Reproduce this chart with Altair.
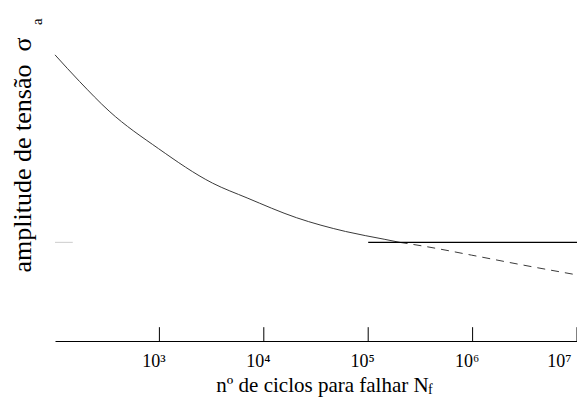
import altair as alt
import pandas as pd

# Curve (N = cycles to failure, S = stress amplitude, arbitrary units)
solid_N = [100, 172, 330, 980, 3230, 6920, 20500, 60700, 144500, 200000]
solid_S = [290, 263, 233, 195, 160, 145, 125, 111, 103, 100]
dash_N = [200000, 345000, 980000, 3030000, 10000000]
dash_S = [100, 96, 87, 77, 67]
endurance_N = [100000, 10000000]
endurance_S = [100, 100]
marker_N = [100, 148]
marker_S = [100, 100]
tick_N = [1000, 10000, 100000, 1000000, 10000000]
tick_labels = ["10\u00b3", "10\u2074", "10\u2075", "10\u2076", "10\u2077"]

x_title = "n\u00ba de ciclos para falhar N"
x_sub = "f"
y_title = "amplitude de tens\u00e3o\u00a0\u00a0\u03c3"
y_sub = "a"

FONT = "Liberation Serif"

xscale = alt.Scale(type="log", domain=[100, 10000000], nice=False)
yscale = alt.Scale(domain=[0, 300], nice=False, zero=False)

label_expr = " : ".join(
    f"round(datum.value) == {n} ? '{lab}'" for n, lab in zip(tick_N, tick_labels)
) + " : ''"

x_axis = alt.Axis(
    values=tick_N,
    labelExpr=label_expr,
    ticks=False,
    grid=False,
    domainColor="black",
    domainWidth=1,
    labelFont=FONT,
    labelFontSize=18,
    labelColor="black",
    labelPadding=11,
    labelBaseline="top",
    labelOffset=-6,
    labelFlush=True,
    labelOverlap=False,
    title=x_title,
    titleFont=FONT,
    titleFontSize=21,
    titleFontWeight="normal",
    titleColor="black",
    titleBaseline="alphabetic",
    titleAlign="center",
    titleX=267,
    titleY=50,
)
y_axis = alt.Axis(
    domain=False,
    ticks=False,
    labels=False,
    grid=False,
    title=y_title,
    titleFont=FONT,
    titleFontSize=26,
    titleFontWeight="normal",
    titleColor="black",
    titleAngle=270,
    titleAlign="left",
    titleBaseline="alphabetic",
    titleX=-25,
    titleY=227,
)

def xe():
    return alt.X("N:Q", scale=xscale, axis=x_axis, title=x_title)

def ye():
    return alt.Y("S:Q", scale=yscale, axis=y_axis, title=y_title)

solid_df = pd.DataFrame({"N": solid_N, "S": solid_S})
dash_df = pd.DataFrame({"N": dash_N, "S": dash_S})
end_df = pd.DataFrame({"N": endurance_N, "S": endurance_S})
mark_df = pd.DataFrame({"N": marker_N, "S": marker_S})
tick_df = pd.DataFrame({"N": tick_N, "S": [0] * len(tick_N), "S2": [14] * len(tick_N)})

solid = alt.Chart(solid_df).mark_line(
    color="#3a3a3a", strokeWidth=1, interpolate="monotone"
).encode(x=xe(), y=ye())

dashed = alt.Chart(dash_df).mark_line(
    color="#3a3a3a", strokeWidth=1, strokeDash=[8, 6], interpolate="monotone"
).encode(x=xe(), y=ye())

endurance = alt.Chart(end_df).mark_line(color="black", strokeWidth=1.2).encode(x=xe(), y=ye())

marker = alt.Chart(mark_df).mark_line(color="#cccccc", strokeWidth=1).encode(x=xe(), y=ye())

ticks = alt.Chart(tick_df).mark_rule(color="black", strokeWidth=1).encode(
    x=xe(), y=ye(), y2="S2:Q"
)

xsub = alt.Chart(pd.DataFrame({"t": [x_sub]})).mark_text(
    font=FONT, fontSize=14, color="black", align="left", baseline="alphabetic"
).encode(x=alt.value(373), y=alt.value(349), text="t:N")

ysub = alt.Chart(pd.DataFrame({"t": [y_sub]})).mark_text(
    font=FONT, fontSize=15, color="black", align="left", baseline="alphabetic", angle=270
).encode(x=alt.value(-13), y=alt.value(-20), text="t:N")

chart = alt.layer(solid, dashed, endurance, marker, ticks, xsub, ysub).properties(
    width=522,
    height=296,
    background="white",
    autosize=alt.AutoSizeParams(type="none"),
    padding={"left": 47, "top": 37, "right": 0, "bottom": 56},
).configure_view(stroke=None)

chart.save("out.html", embed_options={"renderer": "svg", "actions": False})
